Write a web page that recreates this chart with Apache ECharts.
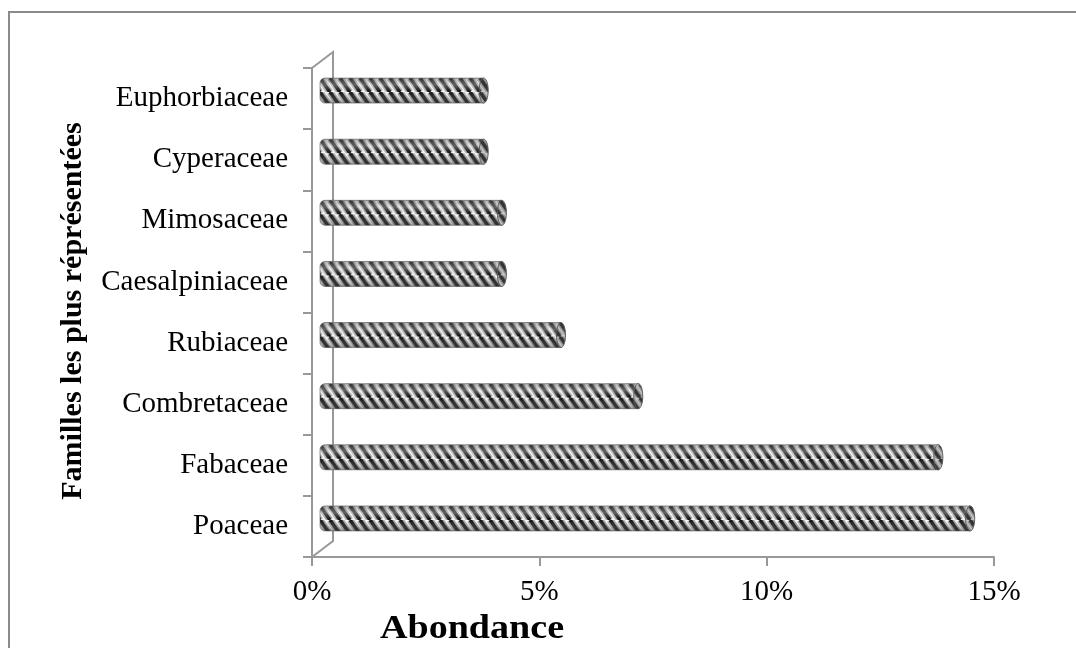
<!DOCTYPE html>
<html>
<head>
<meta charset="utf-8">
<script src="https://cdn.jsdelivr.net/npm/echarts@6/dist/echarts.min.js"></script>
<style>
  html, body { margin: 0; padding: 0; background: #fff; }
  #chart { width: 1076px; height: 648px; }
</style>
</head>
<body>
<div id="chart"></div>
<script>
// Familles botaniques les plus représentées (abondance relative, %)
const families = ['Poaceae', 'Fabaceae', 'Combretaceae', 'Rubiaceae', 'Caesalpiniaceae', 'Mimosaceae', 'Cyperaceae', 'Euphorbiaceae'];
const abundance = [14.3, 13.6, 7.0, 5.3, 4.0, 4.0, 3.6, 3.6];
const xTicks = [0, 5, 10, 15];

const FONT = "'Liberation Serif', 'Times New Roman', serif";
const AXIS_COLOR = '#989898';
const DEPTH_X = 21, DEPTH_Y = -16;   // offset of the back wall
const BAR_DX = 8, BAR_DY = -8;       // bars sit half-way into the depth
const BAR_H = 25;

// Diagonal stripe tile used to fill the cylinders
function stripeTile() {
  const w = 10, h = 14;
  const c = document.createElement('canvas');
  c.width = w; c.height = h;
  const g = c.getContext('2d');
  g.fillStyle = '#f8f8f8';
  g.fillRect(0, 0, w, h);
  for (let k = -3; k <= 3; k++) {
    const x0 = k * w;
    g.strokeStyle = 'rgba(0,0,0,0.32)';
    g.lineWidth = 7;
    g.beginPath(); g.moveTo(x0, 0); g.lineTo(x0 + w, h); g.stroke();
    g.strokeStyle = '#0e0e0e';
    g.lineWidth = 3.6;
    g.beginPath(); g.moveTo(x0, 0); g.lineTo(x0 + w, h); g.stroke();
  }
  return c;
}
const tile = stripeTile();

const chart = echarts.init(document.getElementById('chart'), null, { renderer: 'canvas' });

const shade = {
  type: 'linear', x: 0, y: 0, x2: 0, y2: 1,
  colorStops: [
    { offset: 0, color: 'rgba(70,70,70,0.45)' },
    { offset: 0.28, color: 'rgba(255,255,255,0.35)' },
    { offset: 0.55, color: 'rgba(255,255,255,0)' },
    { offset: 1, color: 'rgba(60,60,60,0.5)' }
  ]
};

chart.setOption({
  animation: false,
  grid: { left: 312, right: 82, top: 68, bottom: 91, containLabel: false },
  xAxis: {
    type: 'value',
    min: xTicks[0], max: xTicks[xTicks.length - 1], interval: 5,
    axisLine: { show: true, lineStyle: { color: AXIS_COLOR, width: 2 } },
    axisTick: { show: true, length: 9, lineStyle: { color: AXIS_COLOR, width: 2 } },
    splitLine: { show: false },
    axisLabel: { formatter: '{value}%', fontFamily: FONT, fontSize: 29, color: '#000', margin: 21 }
  },
  yAxis: {
    type: 'category',
    data: families,
    axisLine: { show: true, lineStyle: { color: AXIS_COLOR, width: 2 } },
    axisTick: { show: true, length: 9, interval: 0, lineStyle: { color: AXIS_COLOR, width: 2 } },
    axisLabel: { fontFamily: FONT, fontSize: 29, color: '#000', margin: 24, interval: 0 },
    splitLine: { show: false }
  },
  graphic: [
    { type: 'rect', shape: { x: 9, y: 12, width: 1200, height: 800 },
      style: { fill: 'none', stroke: '#8a8a8a', lineWidth: 2 }, silent: true },
    { type: 'text', x: 472, y: 629, scaleX: 1.12, silent: true,
      style: { text: 'Abondance', font: "bold 34px 'Liberation Serif', serif", fill: '#000',
               textAlign: 'center', textVerticalAlign: 'middle' } },
    { type: 'text', x: 73, y: 311, rotation: Math.PI / 2, silent: true,
      style: { text: 'Familles les plus réprésentées', font: "bold 30px 'Liberation Serif', serif", fill: '#000',
               textAlign: 'center', textVerticalAlign: 'middle' } }
  ],
  series: [
    {
      // back wall of the pseudo-3D frame
      type: 'custom',
      silent: true,
      data: [[0, 0]],
      renderItem: function (params, api) {
        const band = api.size([0, 1])[1];
        const bottom = api.coord([0, 0]);
        const top = api.coord([0, families.length - 1]);
        const x0 = bottom[0];
        const yB = bottom[1] + band / 2;
        const yT = top[1] - band / 2;
        return {
          type: 'polyline',
          shape: { points: [[x0, yT], [x0 + DEPTH_X, yT + DEPTH_Y], [x0 + DEPTH_X, yB + DEPTH_Y], [x0, yB]] },
          style: { stroke: AXIS_COLOR, lineWidth: 2, fill: 'none' }
        };
      },
      z: 1
    },
    {
      type: 'custom',
      data: abundance.map((v, i) => [v, i]),
      encode: { x: 0, y: 1 },
      renderItem: function (params, api) {
        const idx = api.value(1);
        const v = api.value(0);
        const p0 = api.coord([0, idx]);
        const p1 = api.coord([v, idx]);
        const len = p1[0] - p0[0];
        const h = BAR_H;
        return {
          type: 'group',
          x: p0[0] + BAR_DX,
          y: p0[1] + BAR_DY - h / 2,
          children: [
            { type: 'rect', shape: { x: 0, y: 0, width: len, height: h, r: [5, 0, 0, 5] },
              style: { fill: { image: tile, repeat: 'repeat' } } },
            { type: 'rect', shape: { x: 0, y: 0, width: len, height: h, r: [5, 0, 0, 5] },
              style: { fill: shade, stroke: 'rgba(90,90,90,0.6)', lineWidth: 1 } },
            { type: 'ellipse', shape: { cx: len, cy: h / 2, rx: 4.5, ry: h / 2 },
              style: { fill: { image: tile, repeat: 'repeat' }, stroke: '#555', lineWidth: 1 } },
            { type: 'ellipse', shape: { cx: len, cy: h / 2, rx: 4.5, ry: h / 2 },
              style: { fill: 'rgba(120,120,120,0.35)' } }
          ]
        };
      },
      z: 2
    }
  ]
});
</script>
</body>
</html>
